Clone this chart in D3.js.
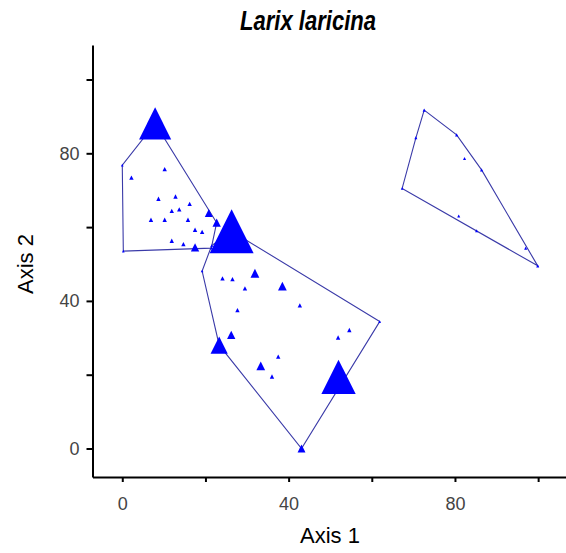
<!DOCTYPE html>
<html>
<head>
<meta charset="utf-8">
<script src="https://cdn.jsdelivr.net/npm/d3@7"></script>
<style>
  html, body { margin: 0; padding: 0; background: #fff; }
  svg { display: block; }
  text { font-family: "Liberation Sans", Arial, sans-serif; }
</style>
</head>
<body>
<svg id="chart" width="566" height="553"></svg>
<script>
// Ordination scores of Larix laricina plots, grouped by community
const group = [
  "A","A","A","A","A","A","A","A","A","A","A","A","A","A","A","A","A","A","A","A","A",
  "B","B","B","B","B","B","B","B","B","B","B","B","B","B","B","B","B","B","B","B",
  "C","C","C","C","C","C","C","C","C","C"
];
const axis1 = [
  7.9, 0.0, 0.25, 2.2, 10.2, 8.7, 12.8, 16.2, 11.9, 13.7, 6.9, 10.2, 15.8, 17.5, 19.2, 11.9, 14.7, 17.5, 20.8, 22.7, 21.4,
  26.3, 19.2, 21.5, 23.3, 43.1, 52.0, 61.9, 31.9, 38.5, 24.1, 26.5, 29.5, 27.7, 42.7, 26.2, 54.6, 51.9, 37.5, 33.3, 36.0,
  72.6, 80.4, 70.6, 82.3, 86.4, 67.3, 80.9, 85.2, 97.0, 99.9
];
const axis2 = [
  88.1, 76.8, 53.5, 73.4, 75.7, 67.7, 68.3, 66.3, 64.4, 64.8, 62.0, 62.0, 62.0, 59.3, 58.7, 56.3, 55.4, 54.5, 63.8, 61.2, 54.3,
  58.9, 48.1, 55.0, 28.0, 0.0, 19.4, 34.4, 47.5, 44.0, 46.1, 45.9, 43.4, 37.5, 38.8, 30.8, 32.1, 30.1, 24.9, 22.4, 19.5,
  91.7, 85.0, 84.2, 78.6, 75.5, 70.5, 63.0, 59.0, 54.3, 49.5
];
// Larix abundance in each plot (drives symbol size)
const abundance = [
  7.3, 0.6, 0.6, 1.0, 1.0, 1.0, 1.0, 1.0, 1.0, 1.0, 1.0, 1.0, 1.0, 1.0, 1.0, 1.0, 1.0, 1.9, 1.8, 1.9, 0.6,
  10.0, 0.6, 0.6, 3.9, 1.8, 7.8, 0.6, 2.0, 2.0, 1.0, 1.0, 1.0, 1.0, 1.0, 1.9, 1.0, 1.0, 1.0, 2.0, 1.0,
  0.7, 0.7, 0.7, 0.7, 0.7, 0.6, 0.7, 0.7, 0.7, 0.7
];

const xTicks = [0, 20, 40, 60, 80, 100];
const yTicks = [0, 20, 40, 60, 80, 100];
const labelledTicks = [0, 40, 80];

const plots = axis1.map((x, i) => ({ x, y: axis2[i], a: abundance[i], g: group[i] }));

const svg = d3.select("#chart");
const x = d3.scaleLinear().domain([-7.16, 106.7]).range([92.5, 566]);
const y = d3.scaleLinear().domain([-7.72, 109.35]).range([477, 45]);
const side = d3.scaleLinear().domain([0, 10]).range([0, 44]);

// Convex hull around each group
const hullGroups = d3.groups(plots, d => d.g);
svg.append("g")
  .selectAll("path")
  .data(hullGroups)
  .join("path")
  .attr("d", ([, pts]) => {
    const hull = d3.polygonHull(pts.map(p => [x(p.x), y(p.y)]));
    return "M" + hull.join("L") + "Z";
  })
  .attr("fill", "none")
  .attr("stroke", "#3a3aa8")
  .attr("stroke-width", 1.1);

// Triangle symbols, side length proportional to abundance
svg.append("g")
  .selectAll("path")
  .data(plots)
  .join("path")
  .attr("d", p => {
    const cx = x(p.x), cy = y(p.y), s = side(p.a), h = s / 2;
    return `M${cx},${cy - h}L${cx + h},${cy + h}L${cx - h},${cy + h}Z`;
  })
  .attr("fill", "#0000ff");

// Axes
const fmt = d => labelledTicks.includes(d) ? d : "";
const xAxis = svg.append("g")
  .attr("transform", "translate(0,477)")
  .call(d3.axisBottom(x).tickValues(xTicks).tickFormat(fmt).tickSize(5).tickSizeOuter(0).tickPadding(15));
const yAxis = svg.append("g")
  .attr("transform", "translate(92.5,0)")
  .call(d3.axisLeft(y).tickValues(yTicks).tickFormat(fmt).tickSize(6).tickSizeOuter(0).tickPadding(7));

[xAxis, yAxis].forEach(ax => {
  ax.select(".domain").attr("stroke", "#000").attr("stroke-width", 2);
  ax.selectAll(".tick line").attr("stroke", "#000").attr("stroke-width", 2);
  ax.selectAll(".tick text")
    .attr("fill", "#444")
    .style("font-size", "18px")
    .style("font-family", "'Liberation Sans', Arial, sans-serif");
});

// Titles
svg.append("text")
  .attr("x", 308).attr("y", 30)
  .attr("text-anchor", "middle")
  .attr("textLength", 136).attr("lengthAdjust", "spacingAndGlyphs")
  .style("font-size", "27px").style("font-weight", "bold").style("font-style", "italic")
  .text("Larix laricina");

svg.append("text")
  .attr("x", 330).attr("y", 543)
  .attr("text-anchor", "middle")
  .style("font-size", "22px")
  .text("Axis 1");

svg.append("text")
  .attr("transform", "translate(33,264) rotate(-90)")
  .attr("text-anchor", "middle")
  .style("font-size", "22px")
  .text("Axis 2");
</script>
</body>
</html>
